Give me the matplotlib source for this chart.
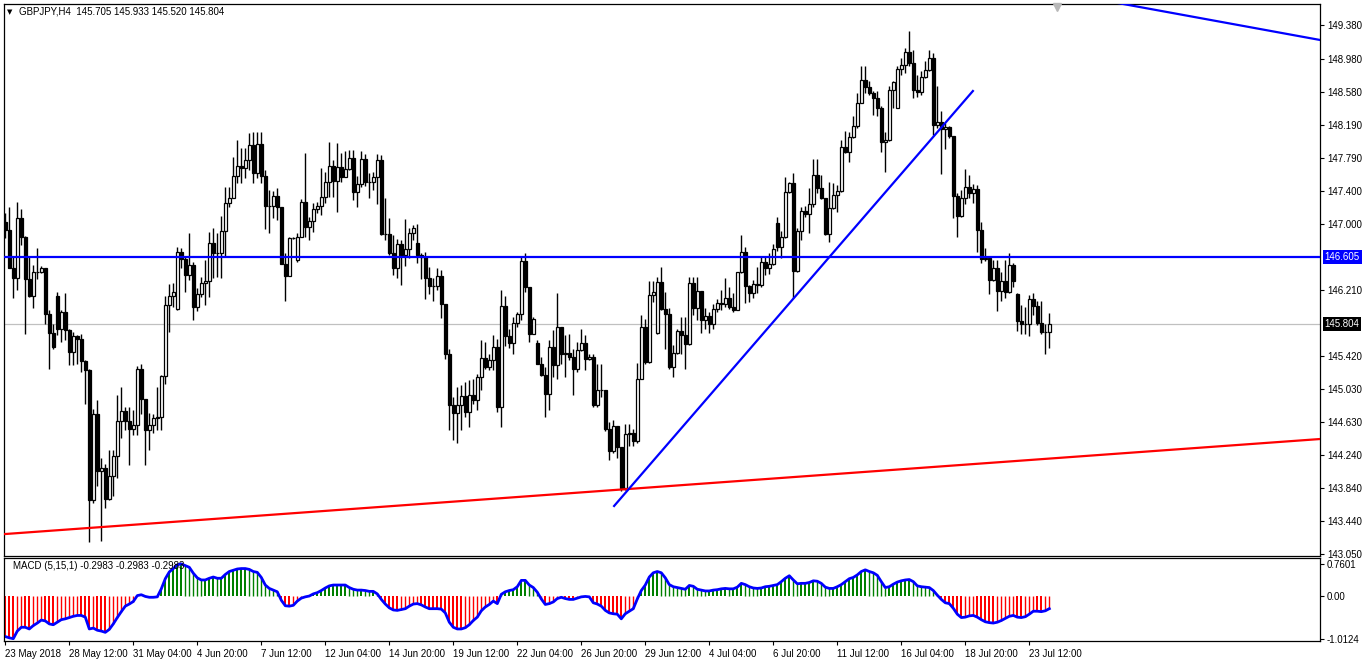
import numpy as np
import matplotlib
matplotlib.use('Agg')
import matplotlib.pyplot as plt
from matplotlib.transforms import blended_transform_factory

# GBPJPY H4 candles (open of each bar = previous close,
# except the Monday bars listed in gap_bars, which open with a weekend gap)
first_open = 147.03
close = [146.93, 146.48, 146.35, 147.07, 146.85, 146.34, 146.14, 146.43, 146.43, 146.47,
         145.92, 145.70, 145.53, 145.74, 145.95, 145.73, 145.47, 145.66, 145.62, 145.36,
         145.25, 143.70, 144.73, 144.04, 144.08, 143.71, 143.98, 144.22, 144.64, 144.76,
         144.64, 144.55, 144.60, 145.26, 144.91, 144.53, 144.60, 144.68, 144.69, 145.18,
         146.03, 146.14, 146.19, 146.67, 146.58, 146.39, 146.51, 146.01, 146.16, 146.29,
         146.32, 146.77, 146.65, 146.66, 146.92, 147.25, 147.31, 147.58, 147.70, 147.67,
         147.77, 147.95, 147.61, 147.96, 147.58, 147.22, 147.22, 147.34, 147.20, 146.52,
         146.38, 146.83, 146.84, 146.85, 147.27, 146.97, 147.04, 147.18, 147.22, 147.32,
         147.51, 147.70, 147.52, 147.68, 147.57, 147.66, 147.79, 147.39, 147.48, 147.78,
         147.50, 147.51, 147.56, 147.77, 146.88, 146.88, 146.65, 146.47, 146.76, 146.63,
         146.70, 146.90, 146.95, 146.63, 146.61, 146.35, 146.26, 146.26, 146.38, 146.05,
         145.45, 144.83, 144.74, 144.83, 144.94, 144.75, 144.95, 144.89, 145.17, 145.40,
         145.29, 145.37, 145.53, 144.81, 146.02, 145.66, 145.58, 145.82, 145.92, 146.56,
         146.25, 145.69, 145.87, 145.33, 145.19, 144.97, 145.53, 145.31, 145.77, 145.45,
         145.46, 145.41, 145.27, 145.49, 145.58, 145.39, 145.41, 144.83, 145.01, 145.01,
         144.55, 144.28, 144.58, 144.33, 143.84, 144.49, 144.50, 144.40, 145.15, 145.77,
         145.35, 146.15, 146.19, 146.31, 145.98, 145.93, 145.29, 145.46, 145.72, 145.67,
         145.57, 146.30, 146.00, 146.20, 145.85, 145.90, 145.80, 145.98, 146.06, 146.05,
         146.11, 146.01, 145.97, 146.43, 146.67, 146.26, 146.17, 146.28, 146.27, 146.55,
         146.47, 146.52, 146.70, 146.73, 146.85, 147.38, 147.49, 146.44, 146.92, 147.16,
         147.12, 147.24, 147.59, 147.43, 147.31, 146.88, 147.19, 147.35, 147.40, 147.92,
         147.87, 148.05, 148.18, 148.45, 148.73, 148.64, 148.57, 148.51, 148.39, 147.99,
         148.01, 148.61, 148.70, 148.86, 148.91, 149.06, 148.93, 148.61, 148.58, 148.76,
         148.85, 148.99, 148.19, 148.22, 148.14, 148.16, 148.06, 147.34, 147.10, 147.31,
         147.44, 147.37, 147.42, 146.93, 146.58, 146.59, 146.33, 146.48, 146.20, 146.32,
         146.19, 146.51, 146.32, 145.84, 145.80, 145.80, 146.10, 146.02, 145.82, 145.71,
         145.705, 145.804]
high = [147.13, 147.20, 146.61, 147.26, 147.18, 146.86, 146.61, 146.51, 146.71, 146.50,
        146.47, 145.97, 145.81, 146.19, 145.97, 146.17, 145.75, 145.71, 145.67, 145.69,
        145.37, 145.27, 144.79, 144.89, 144.20, 144.13, 144.30, 144.30, 144.95, 145.05,
        144.81, 144.81, 144.77, 145.30, 145.33, 144.91, 144.74, 144.73, 145.05, 145.19,
        146.14, 146.28, 146.29, 146.73, 146.72, 146.62, 146.89, 146.55, 146.23, 146.37,
        146.57, 146.91, 146.96, 146.89, 147.10, 147.45, 147.45, 147.81, 148.01, 147.91,
        147.91, 148.09, 148.10, 148.10, 148.10, 147.65, 147.41, 147.40, 147.43, 147.20,
        146.65, 146.85, 146.85, 146.89, 147.30, 147.85, 147.09, 147.25, 147.27, 147.67,
        147.62, 147.98, 147.77, 147.97, 147.85, 147.88, 147.89, 147.89, 147.58, 147.88,
        147.84, 147.61, 147.62, 147.84, 147.83, 147.31, 147.07, 146.87, 146.82, 146.81,
        147.06, 146.96, 146.99, 147.00, 146.66, 146.67, 146.49, 146.35, 146.47, 146.45,
        146.05, 145.51, 144.93, 145.05, 145.07, 145.11, 145.13, 145.14, 145.21, 145.61,
        145.59, 145.45, 145.67, 145.63, 146.21, 146.14, 145.75, 145.89, 145.95, 146.62,
        146.65, 146.25, 145.89, 145.61, 145.41, 145.29, 145.61, 145.73, 146.18, 145.77,
        145.67, 145.69, 145.51, 145.59, 145.74, 145.67, 145.45, 145.45, 145.33, 145.33,
        145.02, 144.63, 144.65, 144.58, 144.33, 144.61, 144.61, 144.55, 145.34, 145.91,
        145.87, 146.32, 146.32, 146.37, 146.49, 146.19, 146.00, 145.55, 145.74, 145.89,
        145.89, 146.37, 146.37, 146.37, 146.20, 146.00, 145.95, 146.05, 146.10, 146.21,
        146.35, 146.25, 146.17, 146.43, 146.87, 146.73, 146.27, 146.33, 146.49, 146.61,
        146.61, 146.66, 146.76, 147.09, 146.92, 147.57, 147.51, 147.61, 146.95, 147.21,
        147.22, 147.43, 147.78, 147.78, 147.59, 147.31, 147.51, 147.49, 147.47, 148.01,
        148.12, 148.11, 148.29, 148.57, 148.89, 148.89, 148.71, 148.59, 148.59, 148.41,
        148.11, 148.65, 148.72, 148.89, 148.99, 149.11, 149.31, 149.09, 148.79, 148.84,
        148.95, 149.09, 149.05, 148.65, 148.35, 148.21, 148.17, 148.06, 147.37, 147.41,
        147.66, 147.59, 147.48, 147.47, 147.03, 146.72, 146.61, 146.57, 146.57, 146.43,
        146.57, 146.65, 146.53, 146.17, 146.03, 146.01, 146.15, 146.17, 146.08, 146.08,
        145.81, 145.933]
low = [146.83, 146.47, 146.12, 146.21, 146.75, 145.68, 146.13, 146.00, 146.34, 146.41,
       145.81, 145.27, 145.50, 145.67, 145.59, 145.61, 145.31, 145.31, 145.33, 145.23,
       144.85, 143.19, 143.66, 143.86, 143.20, 143.60, 143.70, 143.74, 143.96, 144.44,
       144.54, 144.12, 144.48, 144.48, 144.73, 144.12, 144.30, 144.50, 144.54, 144.54,
       145.09, 145.71, 146.01, 145.97, 146.47, 146.19, 146.33, 145.85, 145.96, 146.13,
       146.03, 146.13, 146.36, 146.37, 146.35, 146.62, 147.21, 147.31, 147.49, 147.49,
       147.55, 147.65, 147.49, 147.55, 147.49, 146.94, 146.90, 147.08, 147.05, 146.52,
       146.08, 146.38, 146.82, 146.55, 146.85, 146.85, 146.81, 146.91, 147.13, 147.11,
       147.25, 147.32, 147.32, 147.14, 147.51, 147.56, 147.65, 147.29, 147.20, 147.45,
       147.46, 147.31, 147.41, 147.24, 146.87, 146.81, 146.63, 146.39, 146.35, 146.27,
       146.50, 146.59, 146.81, 146.54, 146.34, 146.10, 146.16, 146.08, 146.21, 145.88,
       145.39, 144.54, 144.41, 144.38, 144.53, 144.69, 144.57, 144.85, 144.78, 145.01,
       145.27, 145.25, 145.25, 144.75, 144.57, 145.54, 145.52, 145.45, 145.77, 145.85,
       146.19, 145.59, 145.69, 145.33, 145.18, 144.69, 144.78, 145.17, 145.15, 145.33,
       145.17, 145.37, 144.95, 145.23, 145.48, 145.25, 145.37, 144.81, 144.81, 144.93,
       144.52, 144.18, 144.26, 144.20, 143.81, 143.82, 144.34, 144.34, 144.38, 145.14,
       145.33, 145.34, 146.07, 145.68, 145.97, 145.51, 145.27, 145.17, 145.45, 145.45,
       145.27, 145.55, 145.91, 145.85, 145.70, 145.75, 145.70, 145.75, 145.95, 145.97,
       146.01, 145.99, 145.95, 145.97, 146.41, 146.06, 146.07, 146.11, 146.17, 146.25,
       146.39, 146.40, 146.51, 146.68, 146.59, 146.84, 147.37, 146.12, 146.43, 146.81,
       147.09, 146.89, 147.21, 147.37, 147.30, 146.87, 146.79, 147.18, 147.15, 147.39,
       147.85, 147.75, 148.03, 148.15, 148.45, 148.57, 148.55, 148.31, 148.30, 147.87,
       147.63, 148.00, 148.39, 148.39, 148.79, 148.81, 148.89, 148.51, 148.52, 148.55,
       148.75, 148.83, 148.07, 148.15, 147.60, 147.90, 148.03, 147.08, 146.85, 147.09,
       147.24, 147.31, 147.25, 146.67, 146.54, 146.56, 146.16, 146.32, 145.96, 146.08,
       146.12, 146.17, 146.25, 145.72, 145.69, 145.69, 145.66, 145.91, 145.79, 145.69,
       145.45, 145.520]
gap_bars = [13, 43, 73, 103, 133, 163, 193, 223, 253]
gap_opens = [146.14, 145.99, 146.57, 146.77, 145.58, 145.70, 147.01, 148.39, 146.16]

# MACD (5,15,1) main line / histogram
macd = [-0.96, -0.99, -1.01, -0.83, -0.74, -0.74, -0.78, -0.70, -0.64, -0.57,
        -0.59, -0.66, -0.68, -0.62, -0.56, -0.54, -0.51, -0.48, -0.46, -0.46,
        -0.50, -0.78, -0.76, -0.81, -0.83, -0.86, -0.79, -0.66, -0.51, -0.37,
        -0.24, -0.19, -0.13, 0.01, 0.03, -0.01, -0.03, -0.03, -0.02, 0.17,
        0.41, 0.57, 0.65, 0.74, 0.76, 0.72, 0.68, 0.54, 0.43, 0.38,
        0.38, 0.42, 0.45, 0.42, 0.42, 0.51, 0.58, 0.61, 0.64, 0.65,
        0.65, 0.63, 0.58, 0.56, 0.44, 0.26, 0.18, 0.14, 0.10, -0.10,
        -0.23, -0.24, -0.22, -0.12, -0.05, -0.02, 0.00, 0.05, 0.08, 0.13,
        0.19, 0.24, 0.26, 0.26, 0.26, 0.26, 0.20, 0.16, 0.14, 0.14,
        0.13, 0.11, 0.11, 0.05, -0.08, -0.19, -0.28, -0.33, -0.34, -0.32,
        -0.30, -0.24, -0.19, -0.18, -0.21, -0.26, -0.30, -0.30, -0.30, -0.31,
        -0.40, -0.62, -0.74, -0.78, -0.78, -0.75, -0.68, -0.58, -0.50, -0.35,
        -0.26, -0.20, -0.12, -0.18, 0.04, 0.10, 0.13, 0.15, 0.22, 0.37,
        0.37, 0.26, 0.20, 0.09, -0.07, -0.20, -0.18, -0.14, -0.06, -0.03,
        -0.06, -0.08, -0.08, -0.05, -0.02, -0.01, -0.02, -0.16, -0.19, -0.24,
        -0.34, -0.40, -0.42, -0.43, -0.54, -0.42, -0.36, -0.30, -0.07, 0.13,
        0.26, 0.45, 0.55, 0.58, 0.55, 0.43, 0.27, 0.22, 0.20, 0.18,
        0.16, 0.25, 0.23, 0.16, 0.14, 0.12, 0.12, 0.14, 0.15, 0.17,
        0.18, 0.17, 0.17, 0.21, 0.30, 0.27, 0.22, 0.19, 0.18, 0.19,
        0.22, 0.23, 0.25, 0.27, 0.34, 0.42, 0.48, 0.38, 0.29, 0.30,
        0.30, 0.32, 0.36, 0.35, 0.30, 0.21, 0.18, 0.18, 0.22, 0.27,
        0.34, 0.41, 0.44, 0.50, 0.58, 0.62, 0.58, 0.55, 0.49, 0.34,
        0.20, 0.22, 0.28, 0.33, 0.36, 0.38, 0.39, 0.34, 0.24, 0.22,
        0.21, 0.20, 0.13, 0.02, -0.08, -0.16, -0.18, -0.29, -0.43, -0.51,
        -0.50, -0.47, -0.46, -0.50, -0.56, -0.61, -0.63, -0.64, -0.62, -0.58,
        -0.53, -0.48, -0.46, -0.50, -0.51, -0.49, -0.43, -0.36, -0.36, -0.37,
        -0.35, -0.30]

date_labels = ['23 May 2018', '28 May 12:00', '31 May 04:00', '4 Jun 20:00', '7 Jun 12:00',
               '12 Jun 04:00', '14 Jun 20:00', '19 Jun 12:00', '22 Jun 04:00', '26 Jun 20:00',
               '29 Jun 12:00', '4 Jul 04:00', '6 Jul 20:00', '11 Jul 12:00', '16 Jul 04:00',
               '18 Jul 20:00', '23 Jul 12:00']
date_bars = [0, 16, 32, 48, 64, 80, 96, 112, 128, 144, 160, 176, 192, 208, 224, 240, 256]

price_ticks = [149.380, 148.980, 148.580, 148.190, 147.790, 147.400, 147.000, 146.210,
               145.420, 145.030, 144.630, 144.240, 143.840, 143.440, 143.050]
level_price = 146.605
last_price = 145.804

# trend lines: (bar, price) end points
red_line = [(-0.1, 143.289), (328.7, 144.427)]
up_line = [(152.2, 143.625), (241.9, 148.595)]
top_line = [(270.0, 149.72), (328.7, 149.206)]

W, H = 1366, 665


def rect(x0, y0, x1, y1):
    return [x0 / W, 1 - y1 / H, (x1 - x0) / W, (y1 - y0) / H]


plt.rcParams['font.family'] = ['Liberation Sans', 'DejaVu Sans']
fig = plt.figure(figsize=(W / 100, H / 100), dpi=100)
fig.patch.set_facecolor('white')
ax = fig.add_axes(rect(4, 4, 1320, 556))
ax2 = fig.add_axes(rect(4, 558, 1320, 641))

n = len(close)
x = np.arange(n)
c = np.array(close)
o = np.concatenate([[first_open], c[:-1]])
o[gap_bars] = gap_opens
hi = np.maximum(np.array(high), np.maximum(o, c))
lo = np.minimum(np.array(low), np.minimum(o, c))

# candles
ax.vlines(x, lo, hi, color='black', lw=1)
up = c >= o
face = np.where(up, 'white', 'black')
ax.bar(x, c - o, bottom=o, width=0.62, color=face, edgecolor='black', linewidth=0.9, zorder=3)

ax.axhline(level_price, color='#0000FF', lw=1.6, zorder=4)
ax.axhline(last_price, color='#C0C0C0', lw=0.9, zorder=1)
for line, col in [(red_line, '#FF0000'), (up_line, '#0000FF'), (top_line, '#0000FF')]:
    ax.plot([p[0] for p in line], [p[1] for p in line], color=col, lw=1.6, zorder=4)

ax.set_xlim(-0.325, 328.675)
ax.set_ylim(143.026, 149.637)
ax.set_xticks([])
ax.yaxis.tick_right()
ax.set_yticks(price_ticks)
ax.set_yticklabels(['%.3f' % p for p in price_ticks])
ax.tick_params(axis='y', direction='out', length=3, labelsize=7, pad=2)
for s in ax.spines.values():
    s.set_linewidth(0.9)

tr = blended_transform_factory(ax.transAxes, ax.transData)
ax.text(1.0035, level_price, '%.3f' % level_price, transform=tr, fontsize=7, color='white',
        va='center', ha='left', bbox=dict(boxstyle='square,pad=0.2', fc='#0000FF', ec='none'))
ax.text(1.0035, last_price, '%.3f' % last_price, transform=tr, fontsize=7, color='white',
        va='center', ha='left', bbox=dict(boxstyle='square,pad=0.2', fc='black', ec='none'))

# chart shift marker
ax.plot([262.9], [149.60], marker='v', ms=6, color='#B8B8B8', clip_on=False, zorder=5)

fig.text(7 / W, 1 - 12 / H, '\u25bc', fontsize=5, va='center', ha='left', family='DejaVu Sans')
fig.text(19 / W, 1 - 12 / H, 'GBPJPY,H4  145.705 145.933 145.520 145.804',
         fontsize=7, va='center', ha='left')

# MACD panel
m = np.array(macd)
prev = np.concatenate([[m[0]], m[:-1]])
thick = np.abs(m) >= np.abs(prev)
col = np.where(m >= 0, '#008000', '#FF0000')
ax2.bar(x[thick], m[thick], width=0.55, color=col[thick], linewidth=0)
ax2.vlines(x[~thick], 0, m[~thick], colors=col[~thick], lw=1)
ax2.plot(x, m, color='#0000FF', lw=2)
ax2.set_xlim(-0.325, 328.675)
ax2.set_ylim(-1.065, 0.90)
ax2.yaxis.tick_right()
ax2.set_yticks([0.7601, 0.0, -1.0124])
ax2.set_yticklabels(['0.7601', '0.00', '-1.0124'])
ax2.tick_params(axis='y', direction='out', length=3, labelsize=7, pad=2)
ax2.set_xticks(date_bars)
ax2.set_xticklabels(date_labels, ha='left')
ax2.tick_params(axis='x', direction='out', length=3, labelsize=7, pad=3)
for s in ax2.spines.values():
    s.set_linewidth(0.9)
ax2.text(9 / 1316, 0.9, 'MACD (5,15,1) -0.2983 -0.2983 -0.2983', transform=ax2.transAxes,
         fontsize=7, va='center', ha='left')

fig.savefig('out.png', dpi=100)
